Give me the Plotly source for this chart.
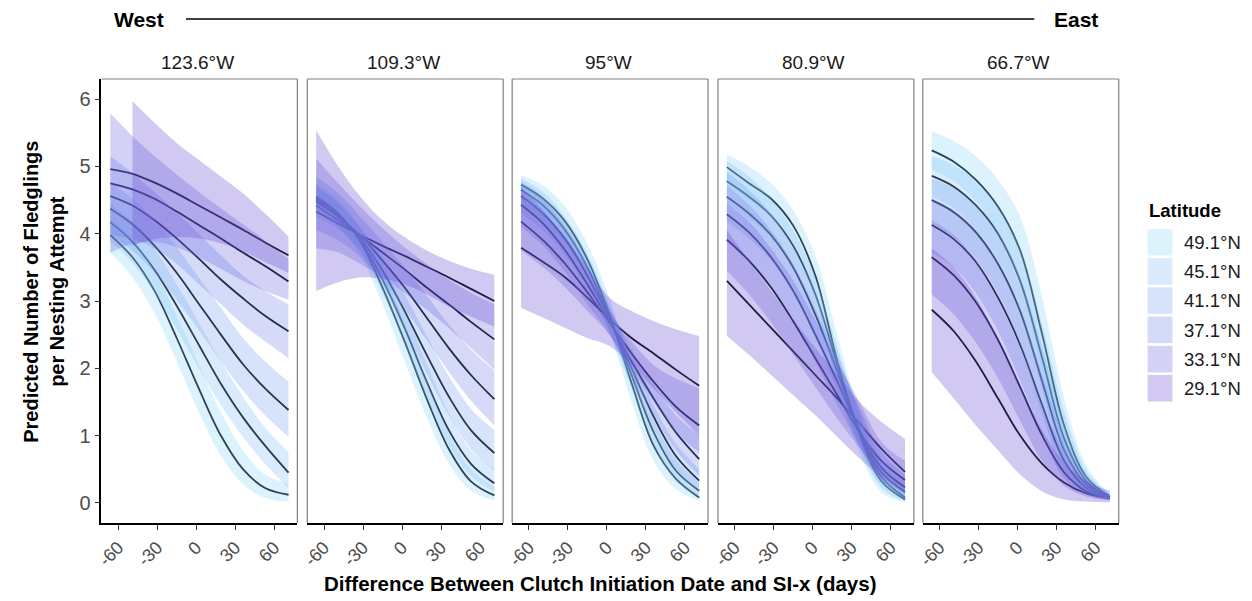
import plotly.graph_objects as go

# ---------------- data ----------------
DAYS = [-66, -49, -32, -15, 2, 19, 36, 53, 71]
LONGITUDES = ["123.6°W", "109.3°W", "95°W", "80.9°W", "66.7°W"]
LATITUDES = ["49.1°N", "45.1°N", "41.1°N", "37.1°N", "33.1°N", "29.1°N"]
X_TICKS = [-60, -30, 0, 30, 60]
Y_TICKS = [0, 1, 2, 3, 4, 5, 6]

# rows follow LATITUDES order (49.1 ... 29.1)
FIT_W123 = [
    [3.98, 3.65, 3.15, 2.45, 1.70, 1.00, 0.50, 0.22, 0.12],
    [4.17, 3.88, 3.46, 2.93, 2.35, 1.77, 1.27, 0.85, 0.45],
    [4.37, 4.14, 3.82, 3.42, 2.96, 2.50, 2.06, 1.70, 1.38],
    [4.56, 4.42, 4.20, 3.93, 3.63, 3.32, 3.04, 2.78, 2.55],
    [4.75, 4.66, 4.52, 4.33, 4.13, 3.93, 3.72, 3.52, 3.29],
    [4.96, 4.89, 4.76, 4.60, 4.42, 4.24, 4.06, 3.87, 3.68],
]
LOW_W123 = [
    [3.72, 3.35, 2.82, 2.10, 1.35, 0.70, 0.28, 0.07, 0.02],
    [3.88, 3.57, 3.12, 2.58, 2.00, 1.45, 0.98, 0.58, 0.22],
    [3.98, 3.75, 3.42, 3.02, 2.57, 2.10, 1.67, 1.30, 0.98],
    [3.98, 3.92, 3.78, 3.55, 3.25, 2.95, 2.65, 2.40, 2.15],
    [3.72, 3.85, 3.88, 3.80, 3.65, 3.48, 3.30, 3.15, 3.02],
    [None, 3.82, 3.92, 3.95, 3.93, 3.86, 3.74, 3.58, 3.42],
]
UPP_W123 = [
    [4.22, 3.92, 3.45, 2.78, 2.05, 1.35, 0.78, 0.42, 0.28],
    [4.45, 4.18, 3.78, 3.25, 2.68, 2.10, 1.58, 1.12, 0.75],
    [4.75, 4.52, 4.20, 3.80, 3.35, 2.90, 2.45, 2.10, 1.80],
    [5.15, 4.90, 4.62, 4.32, 4.00, 3.68, 3.38, 3.15, 2.95],
    [5.79, 5.45, 5.15, 4.88, 4.62, 4.38, 4.14, 3.90, 3.62],
    [None, 5.97, 5.65, 5.35, 5.10, 4.85, 4.60, 4.30, 3.96],
]

FIT_W109 = [
    [4.55, 4.30, 3.88, 3.20, 2.40, 1.55, 0.80, 0.32, 0.11],
    [4.52, 4.28, 3.90, 3.32, 2.60, 1.80, 1.08, 0.58, 0.29],
    [4.50, 4.27, 3.93, 3.45, 2.85, 2.20, 1.58, 1.08, 0.74],
    [4.47, 4.25, 3.97, 3.60, 3.20, 2.75, 2.30, 1.90, 1.54],
    [4.42, 4.20, 3.97, 3.72, 3.47, 3.20, 2.95, 2.69, 2.43],
    [4.33, 4.15, 3.98, 3.82, 3.67, 3.51, 3.35, 3.18, 3.00],
]
LOW_W109 = [
    [4.35, 4.10, 3.68, 2.95, 2.10, 1.27, 0.58, 0.18, 0.03],
    [4.32, 4.10, 3.72, 3.12, 2.35, 1.55, 0.85, 0.40, 0.16],
    [4.25, 4.07, 3.75, 3.25, 2.60, 1.92, 1.30, 0.80, 0.48],
    [4.05, 3.90, 3.65, 3.30, 2.88, 2.42, 1.95, 1.52, 1.15],
    [3.78, 3.72, 3.55, 3.35, 3.12, 2.87, 2.60, 2.30, 1.98],
    [3.15, 3.28, 3.35, 3.33, 3.25, 3.10, 2.92, 2.77, 2.62],
]
UPP_W109 = [
    [4.75, 4.50, 4.08, 3.45, 2.68, 1.82, 1.05, 0.50, 0.24],
    [4.72, 4.47, 4.08, 3.52, 2.85, 2.07, 1.33, 0.78, 0.50],
    [4.70, 4.45, 4.10, 3.65, 3.10, 2.48, 1.88, 1.40, 1.08],
    [4.85, 4.60, 4.25, 3.88, 3.50, 3.08, 2.65, 2.28, 1.97],
    [5.12, 4.75, 4.40, 4.08, 3.80, 3.55, 3.32, 3.12, 2.95],
    [5.54, 5.00, 4.55, 4.20, 3.95, 3.75, 3.60, 3.48, 3.39],
]

FIT_W95 = [
    [4.73, 4.52, 4.18, 3.62, 2.80, 1.78, 0.85, 0.36, 0.08],
    [4.65, 4.42, 4.05, 3.50, 2.75, 1.90, 1.05, 0.48, 0.18],
    [4.56, 4.30, 3.92, 3.38, 2.73, 2.00, 1.28, 0.70, 0.33],
    [4.43, 4.15, 3.75, 3.25, 2.70, 2.10, 1.55, 1.05, 0.65],
    [4.18, 3.90, 3.55, 3.13, 2.68, 2.22, 1.80, 1.43, 1.15],
    [3.79, 3.58, 3.35, 3.05, 2.73, 2.45, 2.22, 1.98, 1.74],
]
LOW_W95 = [
    [4.52, 4.30, 3.95, 3.40, 2.55, 1.50, 0.62, 0.20, 0.03],
    [4.45, 4.20, 3.85, 3.30, 2.55, 1.70, 0.85, 0.32, 0.08],
    [4.30, 4.05, 3.68, 3.15, 2.55, 1.82, 1.10, 0.52, 0.20],
    [4.10, 3.82, 3.42, 2.95, 2.50, 1.90, 1.30, 0.78, 0.40],
    [3.75, 3.50, 3.20, 2.85, 2.50, 2.00, 1.50, 1.05, 0.75],
    [2.90, 2.75, 2.60, 2.45, 2.33, 2.05, 1.70, 1.35, 1.00],
]
UPP_W95 = [
    [4.87, 4.72, 4.40, 3.85, 3.05, 2.05, 1.10, 0.55, 0.20],
    [4.82, 4.62, 4.25, 3.70, 2.95, 2.10, 1.25, 0.65, 0.30],
    [4.78, 4.55, 4.15, 3.60, 2.90, 2.15, 1.45, 0.88, 0.50],
    [4.72, 4.50, 4.10, 3.55, 2.90, 2.28, 1.75, 1.30, 1.00],
    [4.60, 4.30, 3.90, 3.40, 2.85, 2.40, 2.05, 1.85, 1.70],
    [4.70, 4.35, 3.95, 3.50, 3.05, 2.85, 2.70, 2.58, 2.48],
]

FIT_W81 = [
    [4.99, 4.75, 4.52, 4.12, 3.38, 2.10, 1.02, 0.32, 0.05],
    [4.78, 4.55, 4.27, 3.82, 3.10, 2.05, 1.05, 0.38, 0.08],
    [4.55, 4.30, 3.98, 3.50, 2.80, 1.95, 1.08, 0.45, 0.16],
    [4.29, 4.02, 3.65, 3.15, 2.50, 1.80, 1.08, 0.52, 0.23],
    [3.91, 3.60, 3.20, 2.70, 2.15, 1.60, 1.05, 0.62, 0.34],
    [3.30, 2.95, 2.60, 2.25, 1.90, 1.55, 1.18, 0.80, 0.46],
]
LOW_W81 = [
    [4.75, 4.50, 4.25, 3.85, 3.05, 1.75, 0.75, 0.15, 0.01],
    [4.45, 4.22, 3.95, 3.50, 2.82, 1.82, 0.85, 0.22, 0.02],
    [4.18, 3.93, 3.60, 3.12, 2.45, 1.65, 0.85, 0.28, 0.06],
    [3.88, 3.60, 3.22, 2.72, 2.10, 1.45, 0.85, 0.35, 0.10],
    [3.45, 3.10, 2.68, 2.20, 1.72, 1.25, 0.82, 0.42, 0.18],
    [2.48, 2.20, 1.90, 1.60, 1.30, 0.98, 0.66, 0.38, 0.14],
]
UPP_W81 = [
    [5.18, 5.00, 4.75, 4.35, 3.68, 2.48, 1.32, 0.50, 0.14],
    [5.08, 4.85, 4.52, 4.05, 3.35, 2.30, 1.30, 0.55, 0.20],
    [4.92, 4.65, 4.30, 3.82, 3.12, 2.22, 1.38, 0.65, 0.32],
    [4.72, 4.43, 4.05, 3.55, 2.88, 2.12, 1.42, 0.75, 0.42],
    [4.45, 4.18, 3.78, 3.30, 2.72, 2.10, 1.50, 0.90, 0.62],
    [4.05, 3.60, 3.15, 2.72, 2.30, 1.90, 1.50, 1.20, 0.95],
]

FIT_W67 = [
    [5.24, 5.07, 4.80, 4.40, 3.75, 2.50, 1.14, 0.38, 0.09],
    [4.86, 4.70, 4.42, 4.00, 3.30, 2.15, 0.95, 0.32, 0.08],
    [4.50, 4.32, 4.02, 3.55, 2.85, 1.80, 0.78, 0.27, 0.08],
    [4.13, 3.92, 3.58, 3.05, 2.35, 1.45, 0.62, 0.22, 0.07],
    [3.65, 3.38, 2.98, 2.42, 1.72, 1.00, 0.45, 0.17, 0.07],
    [2.87, 2.55, 2.10, 1.55, 1.00, 0.58, 0.30, 0.14, 0.07],
]
LOW_W67 = [
    [4.95, 4.78, 4.48, 4.00, 3.28, 1.95, 0.75, 0.20, 0.04],
    [4.55, 4.38, 4.05, 3.60, 2.85, 1.68, 0.58, 0.16, 0.04],
    [4.15, 3.95, 3.62, 3.10, 2.35, 1.32, 0.45, 0.13, 0.04],
    [3.72, 3.50, 3.12, 2.55, 1.82, 1.02, 0.35, 0.12, 0.04],
    [3.10, 2.80, 2.38, 1.85, 1.22, 0.62, 0.25, 0.09, 0.04],
    [1.94, 1.55, 1.15, 0.78, 0.42, 0.17, 0.05, 0.02, 0.01],
]
UPP_W67 = [
    [5.52, 5.38, 5.15, 4.80, 4.25, 3.05, 1.55, 0.55, 0.13],
    [5.15, 5.02, 4.78, 4.40, 3.78, 2.65, 1.35, 0.48, 0.12],
    [4.82, 4.68, 4.42, 4.00, 3.35, 2.30, 1.15, 0.42, 0.12],
    [4.52, 4.35, 4.05, 3.58, 2.88, 1.92, 0.95, 0.35, 0.12],
    [4.20, 3.98, 3.60, 3.02, 2.30, 1.45, 0.75, 0.30, 0.12],
    [3.78, 3.50, 3.05, 2.45, 1.75, 1.08, 0.60, 0.32, 0.18],
]

FITS = [FIT_W123, FIT_W109, FIT_W95, FIT_W81, FIT_W67]
LOWS = [LOW_W123, LOW_W109, LOW_W95, LOW_W81, LOW_W67]
UPPS = [UPP_W123, UPP_W109, UPP_W95, UPP_W81, UPP_W67]

# ---------------- style ----------------
W, H = 1252, 601
FONT = "Liberation Sans, Arial, sans-serif"
FILL_RGB = [(138, 215, 248), (128, 188, 245), (118, 162, 242),
            (115, 132, 235), (108, 102, 225), (102, 75, 208)]
ALPHA = 0.3
LINE_COLOR = "#05050d"
PANEL_LEFT = [95, 302, 508, 715, 921]
PANEL_W = 197
PANEL_TOP, PANEL_BOTTOM = 79, 523


def fx(p):
    return p / W


def fy(p):
    return 1 - p / H


def rgba(c, a=ALPHA):
    return f"rgba({c[0]},{c[1]},{c[2]},{a})"


fig = go.Figure()
layout = dict()
shapes = []
annotations = []

for i, lon in enumerate(LONGITUDES):
    xa = "x" if i == 0 else f"x{i+1}"
    ya = "y" if i == 0 else f"y{i+1}"
    xkey = "xaxis" if i == 0 else f"xaxis{i+1}"
    ykey = "yaxis" if i == 0 else f"yaxis{i+1}"

    # lines first (ribbons are drawn over them)
    for j, lat in enumerate(LATITUDES):
        fig.add_trace(go.Scatter(
            x=DAYS, y=FITS[i][j], mode="lines", xaxis=xa, yaxis=ya,
            line=dict(color=LINE_COLOR, width=1.8, shape="spline"),
            showlegend=False, hoverinfo="skip"))
    for j, lat in enumerate(LATITUDES):
        pts = [(d, lo, up) for d, lo, up in zip(DAYS, LOWS[i][j], UPPS[i][j])
               if lo is not None and up is not None]
        xs = [p[0] for p in pts]
        fig.add_trace(go.Scatter(
            x=xs, y=[p[1] for p in pts], mode="lines", xaxis=xa, yaxis=ya,
            line=dict(width=0, shape="spline", color=rgba(FILL_RGB[j])),
            showlegend=False, hoverinfo="skip"))
        fig.add_trace(go.Scatter(
            x=xs, y=[p[2] for p in pts], mode="lines", xaxis=xa, yaxis=ya,
            line=dict(width=0, shape="spline", color=rgba(FILL_RGB[j])),
            fill="tonexty", fillcolor=rgba(FILL_RGB[j]),
            name=lat, showlegend=False, hoverinfo="skip"))

    left = PANEL_LEFT[i]
    layout[xkey] = dict(
        domain=[fx(left), fx(left + PANEL_W)], anchor=ya,
        range=[-72.85, 77.85], showgrid=False, zeroline=False,
        showline=True, linecolor="black", linewidth=1.8,
        tickmode="array", tickvals=X_TICKS, ticktext=[str(t) for t in X_TICKS],
        ticks="outside", ticklen=5, tickwidth=1.1, tickcolor="#333333",
        tickangle=-45, tickfont=dict(family=FONT, size=18, color="#4d4d4d"))
    layout[ykey] = dict(
        domain=[fy(PANEL_BOTTOM), fy(PANEL_TOP)], anchor=xa,
        range=[-0.3, 6.3], showgrid=False, zeroline=False,
        showline=(i == 0), linecolor="black", linewidth=1.5,
        tickmode="array", tickvals=Y_TICKS, ticktext=[str(t) for t in Y_TICKS],
        ticks="outside" if i == 0 else "", ticklen=5, tickwidth=1.1,
        tickcolor="#333333", showticklabels=(i == 0),
        tickfont=dict(family=FONT, size=20, color="#4d4d4d"))

    # gray panel border (top, right, and left for inner panels)
    seg = [((0, 1), (1, 1)), ((1, 0), (1, 1))]
    if i > 0:
        seg.append(((0, 0), (0, 1)))
    for (x0, y0), (x1, y1) in seg:
        shapes.append(dict(type="line", xref=f"{xa} domain", yref=f"{ya} domain",
                           x0=x0, y0=y0, x1=x1, y1=y1,
                           line=dict(color="#808080", width=1.2)))

    annotations.append(dict(text=lon, x=fx(left + PANEL_W / 2 - 2), y=fy(62),
                            xref="paper", yref="paper", showarrow=False,
                            xanchor="center", yanchor="middle",
                            font=dict(family=FONT, size=19, color="#1a1a1a")))

# header West — East
annotations.append(dict(text="<b>West</b>", x=fx(106), y=fy(20), xref="paper", yref="paper",
                        showarrow=False, xanchor="left", yanchor="middle",
                        font=dict(family=FONT, size=21, color="black")))
annotations.append(dict(text="<b>East</b>", x=fx(1099), y=fy(20), xref="paper", yref="paper",
                        showarrow=False, xanchor="right", yanchor="middle",
                        font=dict(family=FONT, size=21, color="black")))
shapes.append(dict(type="line", xref="paper", yref="paper", x0=fx(180), x1=fx(1033),
                   y0=fy(19), y1=fy(19), line=dict(color="black", width=1.3)))

# axis titles
annotations.append(dict(text="<b>Difference Between Clutch Initiation Date and SI-x (days)</b>",
                        x=fx(596), y=fy(583), xref="paper", yref="paper", showarrow=False,
                        xanchor="center", yanchor="middle",
                        font=dict(family=FONT, size=20.5, color="black")))
annotations.append(dict(text="<b>Predicted Number of Fledglings<br>per Nesting Attempt</b>",
                        x=fx(37), y=fy(292), xref="paper", yref="paper", showarrow=False,
                        textangle=-90, xanchor="center", yanchor="middle",
                        font=dict(family=FONT, size=20, color="black")))

# legend
annotations.append(dict(text="<b>Latitude</b>", x=fx(1146), y=fy(210), xref="paper", yref="paper",
                        showarrow=False, xanchor="left", yanchor="middle",
                        font=dict(family=FONT, size=18.5, color="black")))
for j, lat in enumerate(LATITUDES):
    top = 229 + 29.2 * j
    shapes.append(dict(type="rect", xref="paper", yref="paper",
                       x0=fx(1147), x1=fx(1172), y0=fy(top), y1=fy(top + 26.5),
                       fillcolor=rgba(FILL_RGB[j]), line=dict(width=0)))
    annotations.append(dict(text=lat, x=fx(1182), y=fy(top + 13.5), xref="paper", yref="paper",
                            showarrow=False, xanchor="left", yanchor="middle",
                            font=dict(family=FONT, size=18.5, color="#1a1a1a")))

fig.update_layout(
    width=W, height=H, margin=dict(l=0, r=0, t=0, b=0),
    paper_bgcolor="white", plot_bgcolor="white",
    showlegend=False, shapes=shapes, annotations=annotations,
    font=dict(family=FONT), **layout)

fig.write_html("out.html")
